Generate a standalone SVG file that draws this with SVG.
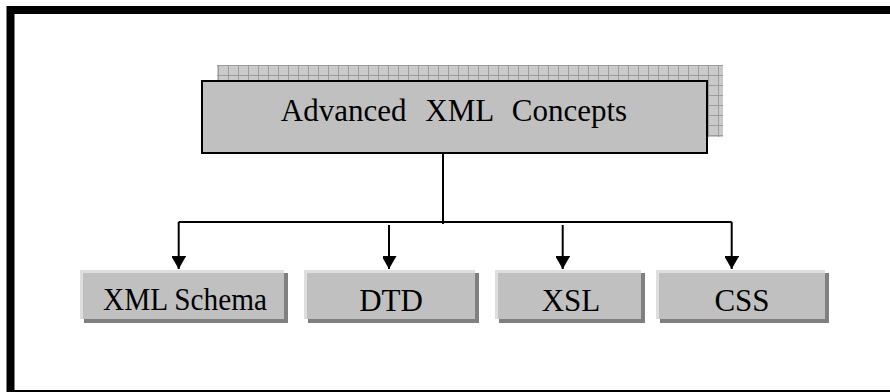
<svg xmlns="http://www.w3.org/2000/svg" width="890" height="392" viewBox="0 0 890 392">
  <defs>
    <pattern id="grid" patternUnits="userSpaceOnUse" x="8" y="5" width="10" height="10">
      <rect width="10" height="10" fill="#cacaca"/>
      <path d="M0 0.5H10M0.5 0V10" stroke="#9c9c9c" stroke-width="1" fill="none"/>
    </pattern>
    <marker id="arr" markerUnits="userSpaceOnUse" markerWidth="16" markerHeight="14" refX="13" refY="7.5" orient="auto">
      <path d="M0 0L13 7.5L0 15Z" fill="#000"/>
    </marker>
  </defs>
  <style>
    .lbl { font-family: "Liberation Serif", "Times New Roman", serif; font-size: 31px; fill: #000; text-anchor: middle; }
    .hi { fill: #dedede; }
    .body { fill: #c0c0c0; }
    .sh { fill: #808080; }
    .ln { stroke: #000; stroke-width: 2; fill: none; }
  </style>
  <rect x="0" y="0" width="890" height="392" fill="#fff"/>
  <rect x="10.5" y="10" width="890" height="384" fill="none" stroke="#000" stroke-width="8"/>

  <g id="main">
    <rect x="217" y="65" width="506" height="72" fill="url(#grid)"/>
    <rect x="202" y="81" width="505" height="72" fill="#c0c0c0" stroke="#000" stroke-width="2"/>
    <text class="lbl" x="454" y="121" font-size="32" word-spacing="11">Advanced XML Concepts</text>
  </g>

  <g id="connectors">
    <path class="ln" d="M443 153V224"/>
    <path class="ln" d="M178.7 222H731.7"/>
    <path class="ln" d="M178.7 222V269" marker-end="url(#arr)"/>
    <path class="ln" d="M389 225V269" marker-end="url(#arr)"/>
    <path class="ln" d="M562.7 225V269" marker-end="url(#arr)"/>
    <path class="ln" d="M731.7 222V269" marker-end="url(#arr)"/>
  </g>

  <g id="xmlschema">
    <rect class="sh" x="84" y="273" width="204" height="50"/>
    <rect class="hi" x="80" y="270" width="204" height="49"/>
    <rect class="body" x="83" y="273" width="201" height="46"/>
    <text class="lbl" x="185" y="310" textLength="164" lengthAdjust="spacingAndGlyphs">XML Schema</text>
  </g>
  <g id="dtd">
    <rect class="sh" x="308" y="273" width="171" height="50"/>
    <rect class="hi" x="304" y="270" width="171" height="49"/>
    <rect class="body" x="307" y="273" width="168" height="46"/>
    <text class="lbl" x="391" y="311">DTD</text>
  </g>
  <g id="xsl">
    <rect class="sh" x="499" y="273" width="146" height="50"/>
    <rect class="hi" x="495" y="270" width="146" height="49"/>
    <rect class="body" x="498" y="273" width="143" height="46"/>
    <text class="lbl" x="571" y="311">XSL</text>
  </g>
  <g id="css">
    <rect class="sh" x="660" y="273" width="169" height="50"/>
    <rect class="hi" x="656" y="270" width="169" height="49"/>
    <rect class="body" x="659" y="273" width="166" height="46"/>
    <text class="lbl" x="742" y="311">CSS</text>
  </g>
</svg>
